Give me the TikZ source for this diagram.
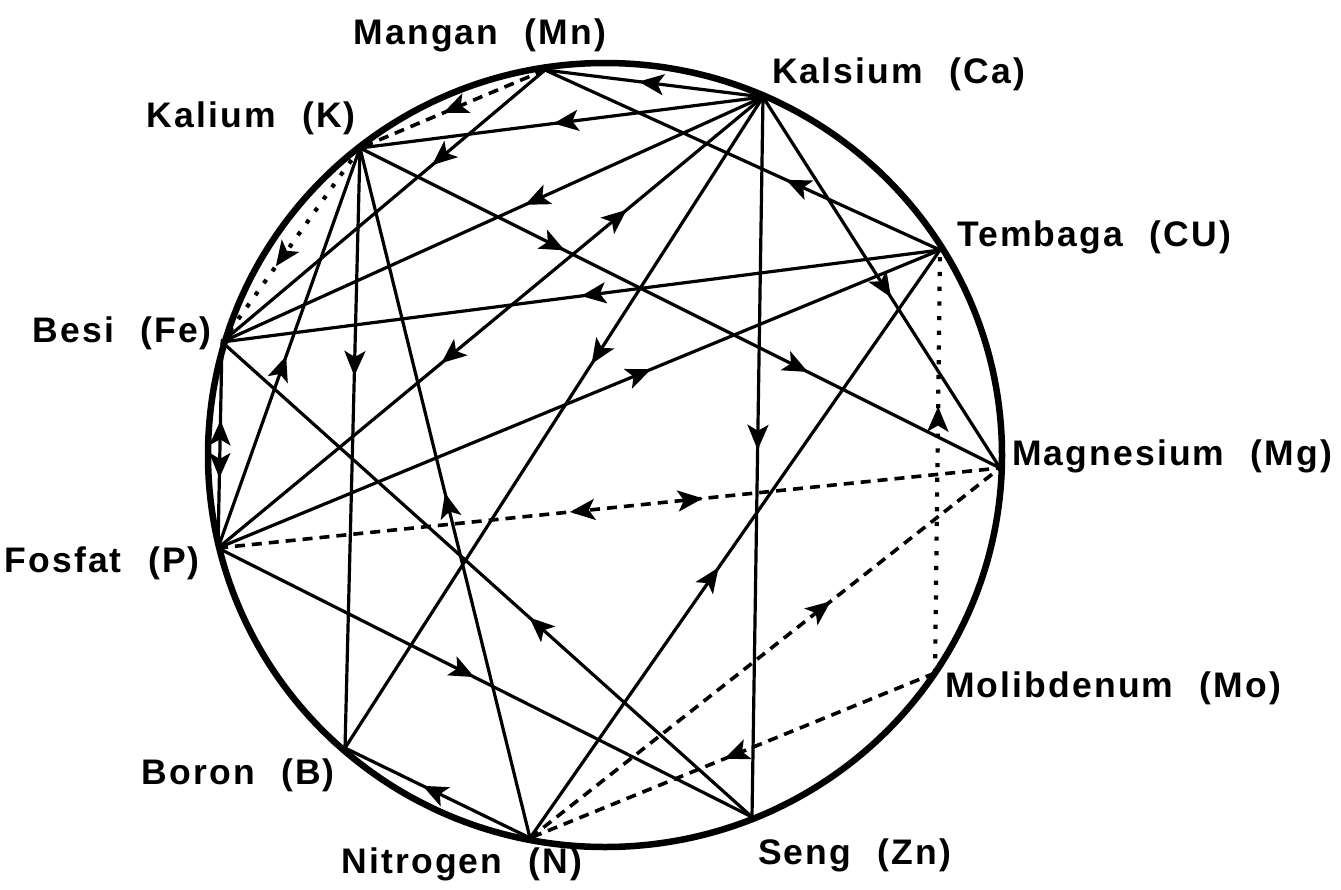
\documentclass[tikz,border=0pt]{standalone}
\usepackage{fontspec}
\setmainfont{Liberation Sans}
\newfontfamily\lblfont{Liberation Sans}[LetterSpace=6,WordSpace=2.2]
\usetikzlibrary{arrows.meta,decorations.markings}
\tikzset{
  conn/.style={line width=3.2pt},
  dsh/.style={line width=3.6pt, dash pattern=on 10pt off 7pt},
  dotl/.style={line width=4.2pt, dash pattern=on 4.2pt off 10.5pt},
  fwd/.style={postaction={decorate,decoration={markings,mark=at position #1 with {\pgfsetdash{}{0pt}\arrow{Stealth[length=25pt,width=21pt,inset=6pt]}}}}},
  bwd/.style={postaction={decorate,decoration={markings,mark=at position #1 with {\pgfsetdash{}{0pt}\arrowreversed{Stealth[length=25pt,width=21pt,inset=6pt]}}}}},
  lbl/.style={font={\lblfont\bfseries\fontsize{35.5}{42}\selectfont}, anchor=base west, inner sep=0pt},
}
\begin{document}
\begin{tikzpicture}[x=1pt,y=-1pt]
\useasboundingbox (0,0) rectangle (1341,889);
\fill[white] (0,0) rectangle (1341,889);
% points on the circle
\coordinate (mn) at (545,70);
\coordinate (ca) at (763,97);
\coordinate (k) at (360,148);
\coordinate (cu) at (940,250);
\coordinate (fe) at (222,342);
\coordinate (mg) at (1000,468);
\coordinate (p) at (218,548);
\coordinate (mo) at (935,673);
\coordinate (b) at (345,748);
\coordinate (n) at (530,838);
\coordinate (zn) at (752,817);
% circle
\draw[line width=6.5pt] (605,455) ellipse [x radius=397pt, y radius=392pt];
% solid connectors
\draw[conn,fwd=0.57] (ca) -- (mn);
\draw[conn,fwd=0.52] (ca) -- (k);
\draw[conn,fwd=0.35] (mn) -- (fe);
\draw[conn,fwd=0.44] (ca) -- (fe);
\draw[conn,fwd=0.75,bwd=0.41] (p) -- (ca);
\draw[conn,fwd=0.50] (cu) -- (fe);
\draw[conn,fwd=0.60] (p) -- (cu);
\draw[conn,fwd=0.39] (cu) -- (mn);
\draw[conn,fwd=0.54] (ca) -- (mg);
\draw[conn,fwd=0.32,fwd=0.70] (k) -- (mg);
\draw[conn,fwd=0.49] (ca) -- (zn);
\draw[conn,fwd=0.41] (ca) -- (b);
\draw[conn,fwd=0.38] (k) -- (b);
\draw[conn,fwd=0.48] (p) -- (k);
\draw[conn,fwd=0.50] (n) -- (k);
\draw[conn,fwd=0.66,bwd=0.38] (fe) -- (p);
\draw[conn,fwd=0.42] (zn) -- (fe);
\draw[conn,fwd=0.48] (p) -- (zn);
\draw[conn,fwd=0.58] (n) -- (b);
\draw[conn,fwd=0.46] (n) -- (cu);
% dashed connectors
\draw[dsh,fwd=0.55] (mn) -- (k);
\draw[dsh,fwd=0.62,bwd=0.45] (p) -- (mg);
\draw[dsh,fwd=0.64] (n) -- (mg);
\draw[dsh,fwd=0.52] (mo) -- (n);
% dotted connectors
\draw[dotl,fwd=0.61] (k) -- (fe);
\draw[dotl,fwd=0.63] (mo) -- (cu);
% labels
\node[lbl,anchor=base] (lmn) at (480,44) {Mangan (Mn)};
\node[lbl] (lca) at (772,83) {Kalsium (Ca)};
\node[lbl,anchor=base east] (lk) at (356,127) {Kalium (K)};
\node[lbl] (lcu) at (957,246) {Tembaga (CU)};
\node[lbl,anchor=base east] (lfe) at (212,342) {Besi (Fe)};
\node[lbl] (lmg) at (1012,465) {Magnesium (Mg)};
\node[lbl,anchor=base east] (lp) at (200,572) {Fosfat (P)};
\node[lbl] (lmo) at (945,697) {Molibdenum (Mo)};
\node[lbl,anchor=base east] (lb) at (335,784) {Boron (B)};
\node[lbl,anchor=base] (ln) at (462,873) {Nitrogen (N)};
\node[lbl] (lzn) at (758,864) {Seng (Zn)};
\end{tikzpicture}
\end{document}
